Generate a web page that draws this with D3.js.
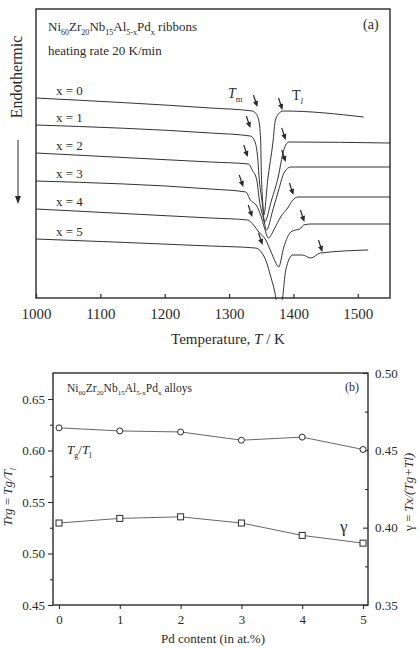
<!DOCTYPE html>
<html>
<head>
<meta charset="utf-8">
<script src="https://cdn.jsdelivr.net/npm/d3@7"></script>
<style>
  body { margin: 0; background: #fff; }
  svg { display: block; }
  text { font-family: "Liberation Serif", "Times New Roman", serif; fill: #2a2a2a; }
</style>
</head>
<body>
<div id="chart"></div>
<script>
// ---- panel (a): DSC traces, temperature in K, signal in arbitrary units ----
const curveLabels = ["x = 0", "x = 1", "x = 2", "x = 3", "x = 4", "x = 5"];

const x0Temp   = [1000, 1271, 1336, 1341, 1346, 1349, 1350, 1352, 1354, 1360, 1368, 1372, 1380, 1385, 1509];
const x0Signal = [200, 190, 187, 185, 178, 158, 128, 98, 83, 118, 155, 178, 186, 187, 181];

const x1Temp   = [1000, 1271, 1333, 1339, 1344, 1347, 1352, 1355, 1366, 1377, 1383, 1388, 1393, 1550];
const x1Signal = [173, 165, 162, 158, 143, 118, 93, 76, 98, 123, 143, 153, 156, 155];

const x2Temp   = [1000, 1271, 1330, 1336, 1343, 1347, 1354, 1358, 1368, 1377, 1386, 1396, 1550];
const x2Signal = [145, 136, 134, 128, 118, 98, 78, 68, 88, 108, 126, 131, 131];

const x3Temp   = [1000, 1271, 1326, 1333, 1343, 1349, 1355, 1361, 1371, 1380, 1391, 1399, 1407, 1550];
const x3Signal = [117, 109, 106, 98, 92, 83, 70, 60, 70, 81, 90, 98, 101, 101];

const x4Temp   = [1000, 1271, 1329, 1338, 1346, 1357, 1364, 1372, 1377, 1385, 1396, 1403, 1410, 1416, 1427, 1550];
const x4Signal = [89, 80, 78, 73, 66, 58, 48, 36, 31, 51, 66, 68, 69, 73, 74, 74];

const x5Temp   = [1000, 1271, 1341, 1350, 1358, 1364, 1371, 1375, 1379, 1383, 1388, 1399, 1414, 1427, 1442, 1516];
const x5Signal = [59, 52, 50, 46, 36, 23, 6, -7, -8, 0, 28, 43, 43, 40, 45, 48];

// arrow tips marking Tm (melting onset) and Tl (liquidus)
const tmArrowT = [1344, 1333, 1329, 1322, 1336, 1352];
const tmArrowS = [191, 170, 141, 111, 81, 53];
const tlArrowT = [1383, 1388, 1388, 1400, 1417, 1445];
const tlArrowS = [188, 158, 136, 103, 76, 46];

const tempTicks = [1000, 1100, 1200, 1300, 1400, 1500];

// ---- panel (b): GFA parameters vs Pd content ----
const pdContent = [0, 1, 2, 3, 4, 5];
const trgValues = [0.622, 0.619, 0.618, 0.610, 0.613, 0.601];
const gammaValues = [0.403, 0.406, 0.407, 0.403, 0.395, 0.390];
const trgTicks = [0.45, 0.50, 0.55, 0.60, 0.65];
const gammaTicks = [0.35, 0.40, 0.45, 0.50];

const width = 420, height = 648;
const ink = "#2a2a2a";

const svg = d3.select("#chart").append("svg")
  .attr("width", width)
  .attr("height", height);

// text with subscripts / italics: parts = [[string, flags]]
function rich(parent, x, y, parts, size) {
  const t = parent.append("text")
    .attr("x", x).attr("y", y)
    .style("font-size", size + "px");
  let shift = 0;
  parts.forEach(([s, flags = ""]) => {
    const target = flags.includes("sub") ? size * 0.3 : 0;
    const ts = t.append("tspan").text(s).attr("dy", target - shift);
    shift = target;
    if (flags.includes("sub")) ts.style("font-size", (size * 0.62) + "px");
    if (flags.includes("it")) ts.style("font-style", "italic");
  });
  return t;
}

/* -----------------------------
   Panel (a)
-------------------------------- */
const A = { left: 36, right: 390, top: 9, bottom: 298 };

const ax = d3.scaleLinear().domain([1000, 1550]).range([A.left, A.right]);
const ay = d3.scaleLinear().domain([0, 289]).range([A.bottom, A.top]);

const ga = svg.append("g");

ga.append("defs").append("clipPath").attr("id", "clipA")
  .append("rect")
  .attr("x", A.left).attr("y", A.top)
  .attr("width", A.right - A.left).attr("height", A.bottom - A.top + 2);

const temps = [x0Temp, x1Temp, x2Temp, x3Temp, x4Temp, x5Temp];
const signals = [x0Signal, x1Signal, x2Signal, x3Signal, x4Signal, x5Signal];

const dscLine = d3.line()
  .x(d => ax(d[0]))
  .y(d => ay(d[1]))
  .curve(d3.curveMonotoneX);

ga.append("g").attr("clip-path", "url(#clipA)")
  .selectAll("path")
  .data(temps.map((t, i) => t.map((v, j) => [v, signals[i][j]])))
  .join("path")
  .attr("d", dscLine)
  .attr("fill", "none")
  .attr("stroke", "#333")
  .attr("stroke-width", 1);

// curve labels, just above each starting baseline
ga.selectAll("text.lbl")
  .data(curveLabels)
  .join("text")
  .attr("class", "lbl")
  .attr("x", 56)
  .attr("y", (d, i) => ay(signals[i][0]) - 3)
  .style("font-size", "13px")
  .text(d => d);

// arrows (down-right pointing)
function arrow(g, tx, ty) {
  const dx = 4, dy = 12;
  g.append("line")
    .attr("x1", tx - dx).attr("y1", ty - dy)
    .attr("x2", tx - dx * 0.35).attr("y2", ty - dy * 0.35)
    .attr("stroke", ink).attr("stroke-width", 1.2);
  const len = Math.hypot(dx, dy), ux = dx / len, uy = dy / len;
  const hl = 6, hw = 2.6;
  const bx = tx - ux * hl, by = ty - uy * hl;
  g.append("path")
    .attr("d", `M${tx},${ty}L${bx - uy * hw},${by + ux * hw}L${bx + uy * hw},${by - ux * hw}Z`)
    .attr("fill", ink);
}
tmArrowT.forEach((t, i) => arrow(ga, ax(t), ay(tmArrowS[i])));
tlArrowT.forEach((t, i) => arrow(ga, ax(t), ay(tlArrowS[i])));

rich(ga, 228, 98, [["T", "it"], ["m", "sub"]], 14);
rich(ga, 292, 100, [["T", ""], ["l", "sub it"]], 14);

// frame
ga.append("rect")
  .attr("x", A.left).attr("y", A.top)
  .attr("width", A.right - A.left).attr("height", A.bottom - A.top)
  .attr("fill", "none").attr("stroke", ink).attr("stroke-width", 1.4);

const axA = ga.append("g")
  .attr("transform", `translate(0,${A.bottom})`)
  .call(d3.axisBottom(ax).tickValues(tempTicks).tickFormat(d3.format("d"))
    .tickSizeInner(-4).tickSizeOuter(0).tickPadding(10));
axA.select(".domain").remove();
axA.selectAll("line").attr("stroke", ink).attr("stroke-width", 1.2);
axA.selectAll("text")
  .style("font-size", "15px")
  .style("font-family", '"Liberation Serif", serif')
  .attr("fill", ink);

rich(ga, 228, 344, [["Temperature, ", ""], ["T", "it"], [" / K", ""]], 15)
  .attr("text-anchor", "middle");

ga.append("text")
  .attr("transform", "translate(22,77) rotate(-90)")
  .attr("text-anchor", "middle")
  .style("font-size", "16px")
  .text("Endothermic");

ga.append("line")
  .attr("x1", 18).attr("y1", 140).attr("x2", 18).attr("y2", 197)
  .attr("stroke", ink).attr("stroke-width", 1);
ga.append("path")
  .attr("d", "M18,204L15,196L21,196Z")
  .attr("fill", ink);

rich(ga, 48, 31, [["Ni"], ["60", "sub"], ["Zr"], ["20", "sub"], ["Nb"], ["15", "sub"],
  ["Al"], ["5-x", "sub"], ["Pd"], ["x", "sub"], [" ribbons"]], 13);
ga.append("text").attr("x", 48).attr("y", 55).style("font-size", "13px")
  .text("heating rate 20 K/min");
ga.append("text").attr("x", 363).attr("y", 29).style("font-size", "14px").text("(a)");

/* -----------------------------
   Panel (b)
-------------------------------- */
const B = { left: 53, right: 368, top: 373, bottom: 605 };

const bx = d3.scaleLinear().domain([0, 5]).range([59, 363]);
const byL = d3.scaleLinear().domain([0.45, 0.65]).range([B.bottom, 399]);
const byR = d3.scaleLinear().domain([0.35, 0.50]).range([B.bottom, B.top]);

const gb = svg.append("g");

gb.append("rect")
  .attr("x", B.left).attr("y", B.top)
  .attr("width", B.right - B.left).attr("height", B.bottom - B.top)
  .attr("fill", "none").attr("stroke", ink).attr("stroke-width", 1.4);

function styleAxis(sel, size) {
  sel.select(".domain").remove();
  sel.selectAll("line").attr("stroke", ink).attr("stroke-width", 1.1);
  sel.selectAll("text")
    .style("font-size", size + "px")
    .style("font-family", '"Liberation Serif", serif')
    .attr("fill", ink);
}

const bxAxis = gb.append("g")
  .attr("transform", `translate(0,${B.bottom})`)
  .call(d3.axisBottom(bx).tickValues(pdContent).tickFormat(d3.format("d"))
    .tickSizeInner(4).tickSizeOuter(0).tickPadding(6));
styleAxis(bxAxis, 13);

const lAxis = gb.append("g")
  .attr("transform", `translate(${B.left},0)`)
  .call(d3.axisLeft(byL).tickValues(trgTicks).tickFormat(d3.format(".2f"))
    .tickSizeInner(5).tickSizeOuter(0).tickPadding(3));
styleAxis(lAxis, 13);
gb.append("g").attr("transform", `translate(${B.left},0)`)
  .call(d3.axisLeft(byL).tickValues(trgTicks.slice(0, -1).map(v => v + 0.025))
    .tickFormat("").tickSizeInner(3).tickSizeOuter(0))
  .call(s => styleAxis(s, 13));

const rAxis = gb.append("g")
  .attr("transform", `translate(${B.right},0)`)
  .call(d3.axisRight(byR).tickValues(gammaTicks).tickFormat(d3.format(".2f"))
    .tickSizeInner(-5).tickSizeOuter(0).tickPadding(7));
styleAxis(rAxis, 13);
gb.append("g").attr("transform", `translate(${B.right},0)`)
  .call(d3.axisRight(byR).tickValues(gammaTicks.slice(0, -1).map(v => v + 0.025))
    .tickFormat("").tickSizeInner(-3).tickSizeOuter(0))
  .call(s => styleAxis(s, 13));

const trgLine = d3.line().x((d, i) => bx(pdContent[i])).y(d => byL(d));
const gammaLine = d3.line().x((d, i) => bx(pdContent[i])).y(d => byR(d));

gb.append("path").attr("d", trgLine(trgValues))
  .attr("fill", "none").attr("stroke", "#555").attr("stroke-width", 0.9);
gb.append("path").attr("d", gammaLine(gammaValues))
  .attr("fill", "none").attr("stroke", "#555").attr("stroke-width", 0.9);

gb.selectAll("circle.trg")
  .data(trgValues)
  .join("circle")
  .attr("class", "trg")
  .attr("cx", (d, i) => bx(pdContent[i]))
  .attr("cy", d => byL(d))
  .attr("r", 3)
  .attr("fill", "#fff").attr("stroke", ink).attr("stroke-width", 1);

gb.selectAll("rect.gam")
  .data(gammaValues)
  .join("rect")
  .attr("class", "gam")
  .attr("x", (d, i) => bx(pdContent[i]) - 3)
  .attr("y", d => byR(d) - 3)
  .attr("width", 6).attr("height", 6)
  .attr("fill", "#fff").attr("stroke", ink).attr("stroke-width", 1);

rich(gb, 67, 392, [["Ni"], ["60", "sub"], ["Zr"], ["20", "sub"], ["Nb"], ["15", "sub"],
  ["Al"], ["5-x", "sub"], ["Pd"], ["x", "sub"], [" alloys"]], 11.5);
gb.append("text").attr("x", 345).attr("y", 391).style("font-size", "12px").text("(b)");

rich(gb, 67, 454, [["T", "it"], ["g", "sub"], ["/"], ["T", "it"], ["l", "sub"]], 13);
gb.append("text").attr("x", 340).attr("y", 532).style("font-size", "17px").text("γ");

rich(gb, 0, 0, [["Trg", "it"], [" = "], ["Tg/T", "it"], ["l", "sub it"]], 13)
  .attr("text-anchor", "middle")
  .attr("transform", "translate(12,497) rotate(-90)");

rich(gb, 0, 0, [["γ = "], ["Tx/(Tg+Tl)", "it"]], 13)
  .attr("text-anchor", "middle")
  .attr("transform", "translate(413,492) rotate(-90)");

rich(gb, 213, 643, [["Pd content (in at.%)"]], 13).attr("text-anchor", "middle");
</script>
</body>
</html>
